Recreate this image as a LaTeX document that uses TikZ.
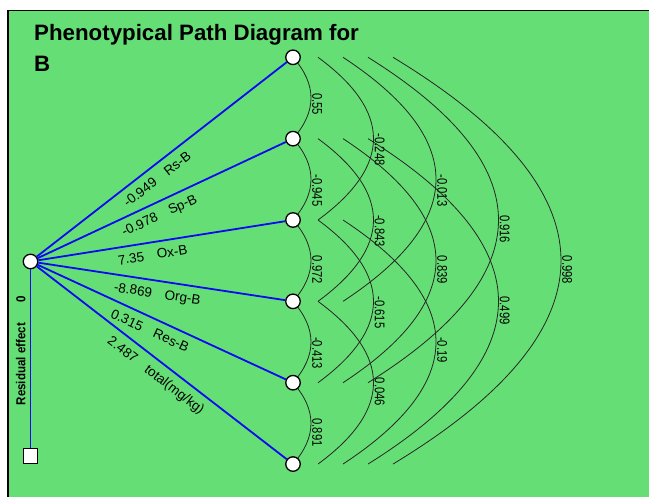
\documentclass[tikz,border=0pt]{standalone}
\usepackage{fontspec}
\setmainfont{Liberation Sans}
\newfontfamily\narrowsans[FakeStretch=0.8]{Liberation Sans}
\newfontfamily\residsans[FakeStretch=0.89]{Liberation Sans}
\usetikzlibrary{calc}
\pgfdeclarelayer{bg}
\pgfsetlayers{bg,main}
\definecolor{panelgreen}{RGB}{101,223,117}
\definecolor{pathblue}{RGB}{10,10,240}
\tikzset{
  trait/.style={circle,draw,fill=white,line width=1.3pt,minimum size=14.5pt,inner sep=0pt},
  resid/.style={rectangle,draw,fill=white,line width=1.3pt,minimum size=14.5pt,inner sep=0pt},
  direct/.style={draw=pathblue,line width=1.8pt},
  corr/.style={draw=black!85,line width=0.8pt},
  coef/.style={font=\fontsize{13.5}{15}\selectfont,sloped,anchor=north,inner sep=0pt,inner ysep=7pt},
  rcoef/.style={font=\narrowsans\fontsize{14}{15}\selectfont,rotate=-90,anchor=south west,inner sep=1pt},
  rlabel/.style={font=\residsans\bfseries\fontsize{13}{14}\selectfont,rotate=90,anchor=south,inner sep=4pt}
}

\begin{document}
\begin{tikzpicture}[x=1pt,y=-1pt]
\useasboundingbox (0,0) rectangle (649,497);
\node[anchor=north west,inner sep=0pt,align=left,font=\bfseries\fontsize{22.3}{31.5}\selectfont] (title) at (34,24) {Phenotypical Path Diagram for\\B};
\node[trait] (x) at (30.5,261.5) {};
\node[resid] (e) at (30.5,456) {};
\foreach \i in {1,...,6} \node[trait] (r\i) at (293,{57.3+81.35*(\i-1)}) {};
\begin{pgfonlayer}{bg}
\fill[panelgreen] (8,10.5) rectangle (649,497);
\draw[line width=1.5pt] (8,497) -- (8,10.5) -- (649,10.5);
\foreach \i/\j/\v in {1/2/0.55,2/3/-0.945,3/4/0.972,4/5/-0.413,5/6/0.891,1/3/-0.248,2/4/-0.843,3/5/-0.615,4/6/0.046,1/4/-0.013,2/5/0.839,3/6/-0.19,1/5/0.916,2/6/0.499,1/6/0.998} {
  \pgfmathsetmacro\s{25*(\j-\i-1)}
  \pgfmathsetmacro\m{18+62.5*(\j-\i-1)}
  \pgfmathsetmacro\c{\s+4/3*(\m-\s)}
  \draw[corr] ($(r\i.center)+(\s,0)$) .. controls ($(r\i.center)!1/3!(r\j.center)+(\c,0)$) and ($(r\i.center)!2/3!(r\j.center)+(\c,0)$) .. ($(r\j.center)+(\s,0)$);
  \node[rcoef] at ($(r\i.center)!0.5!(r\j.center)+(\m,-6)$) {\v};
}
\end{pgfonlayer}
\foreach \i/\p/\t in {1/0.45/{-0.949\hspace{13pt}Rs-B},2/0.468/{-0.978\hspace{13pt}Sp-B},3/0.455/{7.35\hspace{13pt}Ox-B},4/0.49/{-8.869\hspace{13pt}Org-B},5/0.474/{0.315\hspace{13pt}Res-B},6/0.51/{2.487\hspace{13pt}total(mg/kg)}}
  \draw[direct] (x) -- (r\i) node[coef,pos=\p] {\t};
\draw[direct] (x) -- (e) node[rlabel,pos=0.17] {0} node[rlabel,pos=0.53] {Residual effect};
\end{tikzpicture}
\end{document}
